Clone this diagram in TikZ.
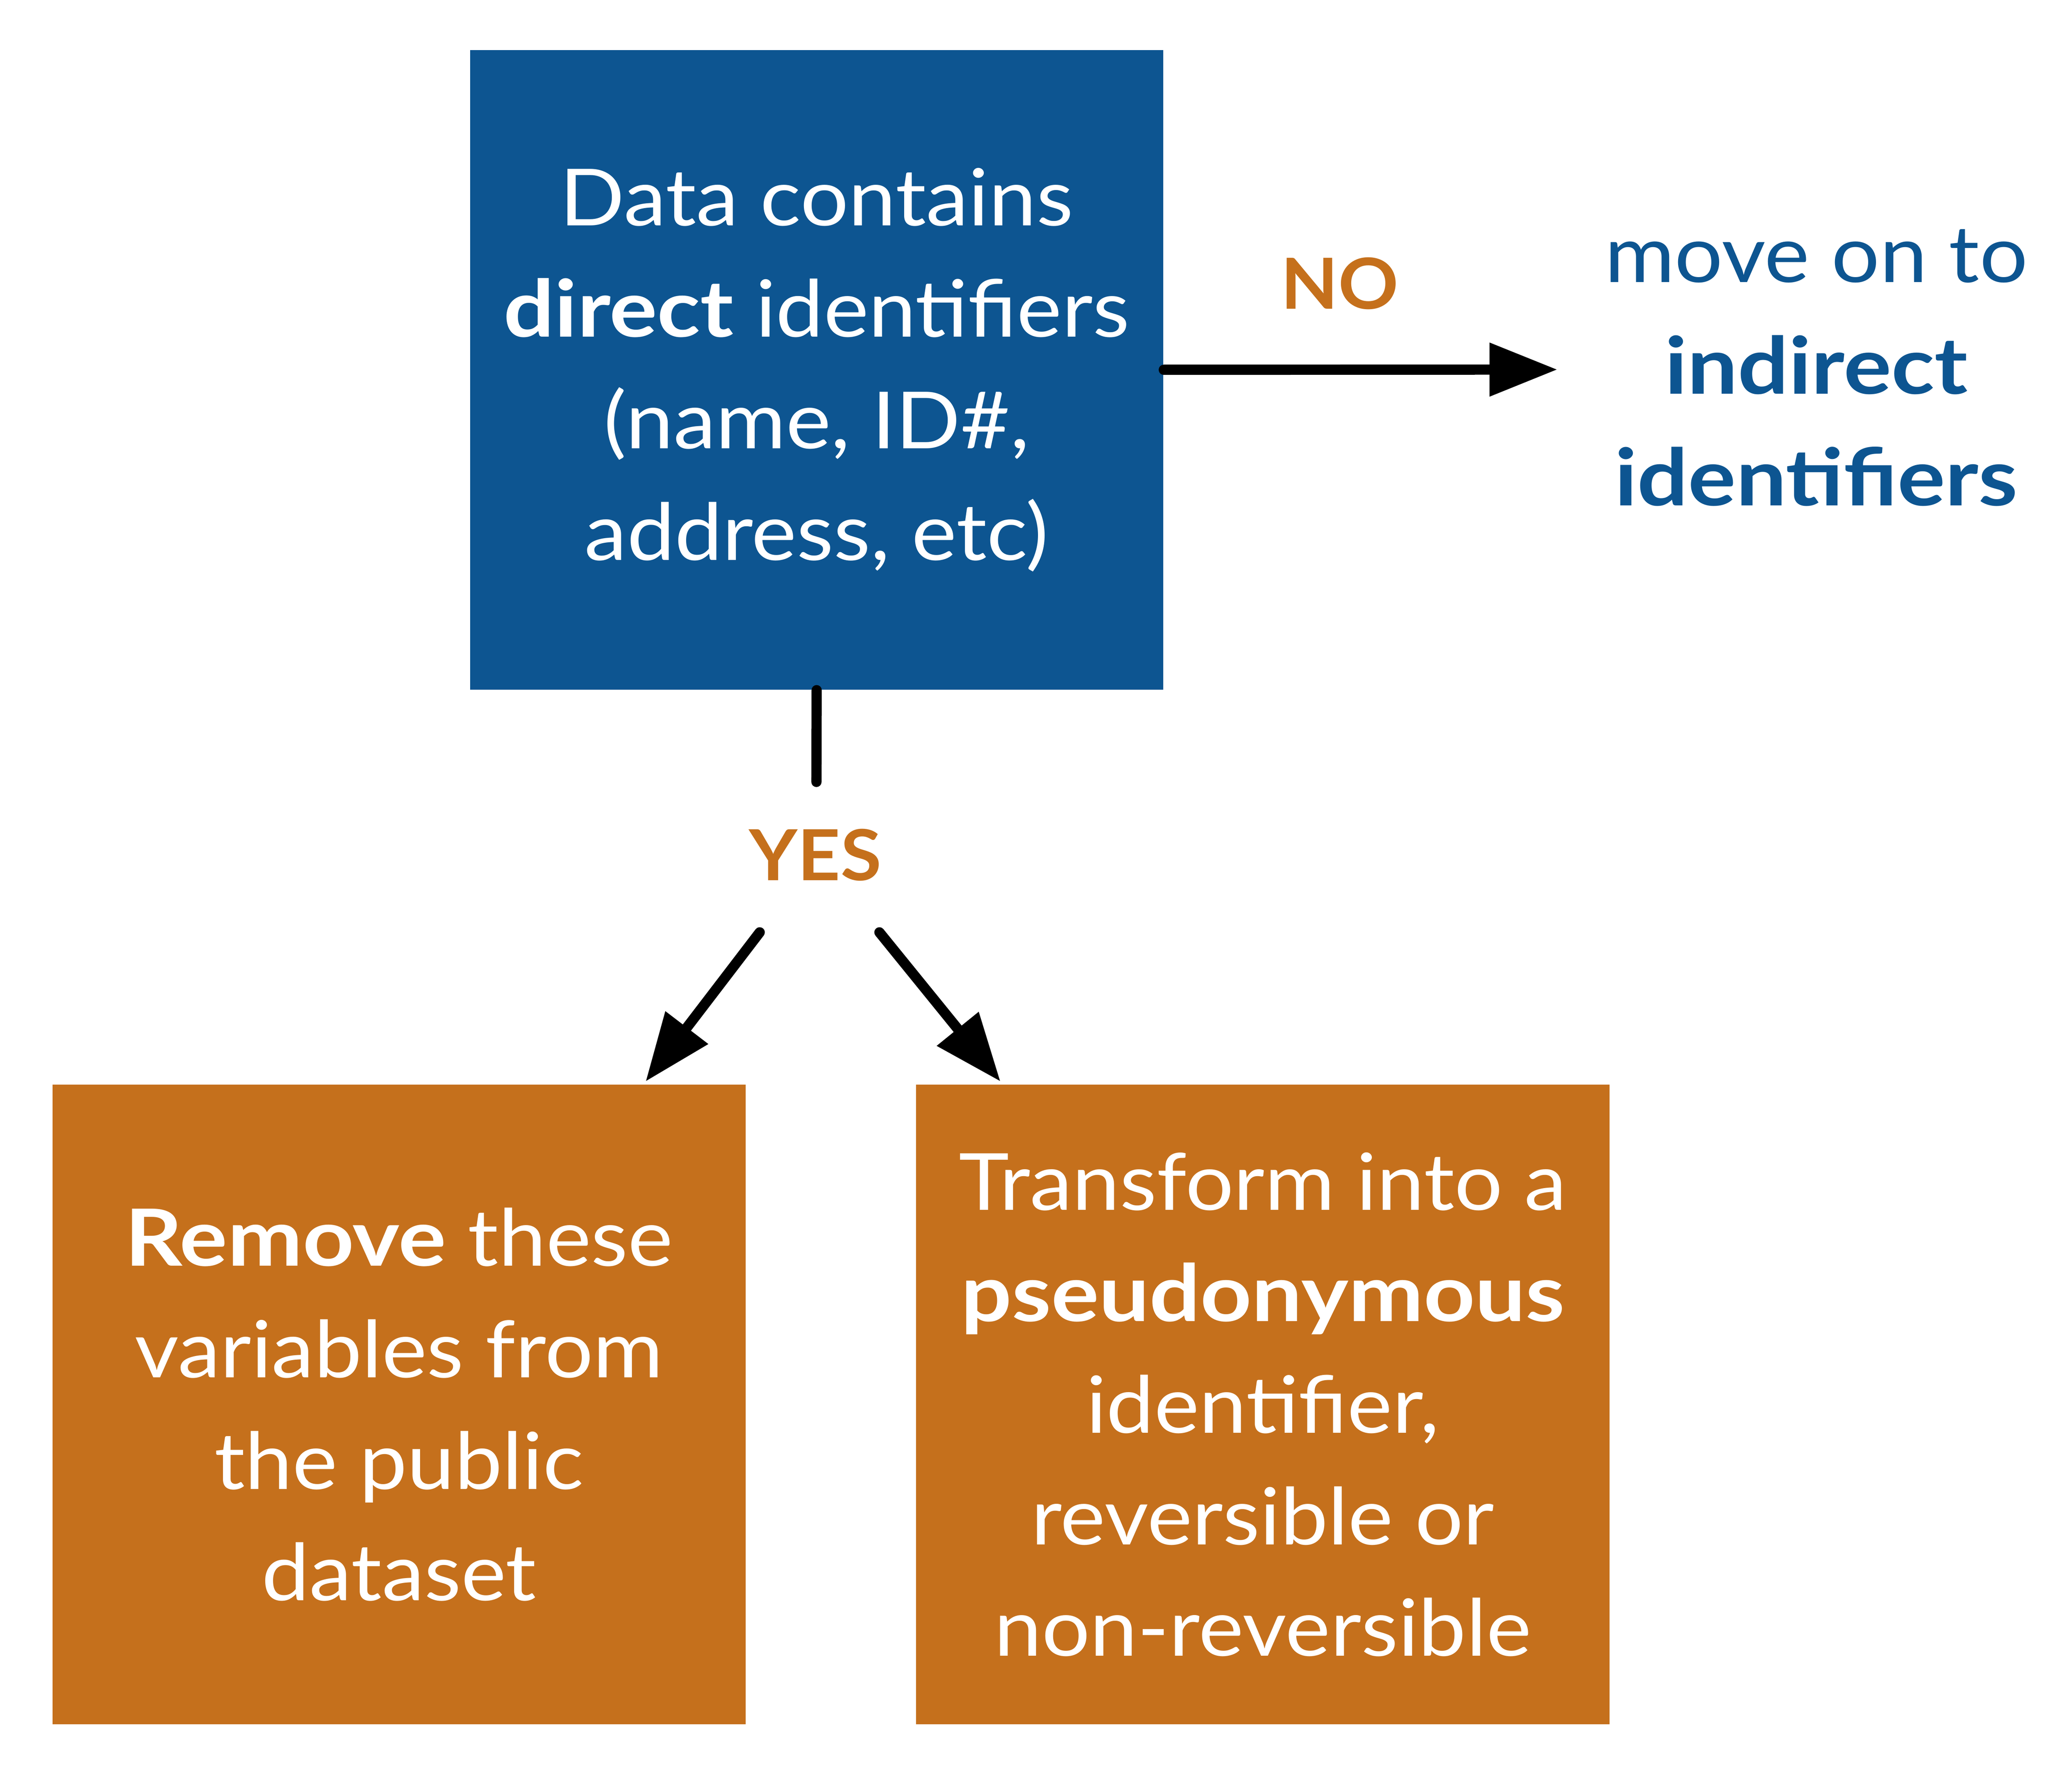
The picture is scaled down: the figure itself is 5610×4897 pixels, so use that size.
\documentclass[tikz,border=0pt]{standalone}
\usepackage{fontspec}
\setmainfont{Lato}[FakeStretch=1.08]
\newfontfamily\wideboldfam{Lato}[FakeStretch=1.135]
\newfontfamily\labelfam{Lato}[FakeStretch=1.06]
\newcommand{\wb}[1]{{\wideboldfam\bfseries #1}}
\usetikzlibrary{arrows.meta}
\definecolor{boxblue}{HTML}{0D5591}
\definecolor{boxorange}{HTML}{C5701C}
\begin{document}
\begin{tikzpicture}[x=0.005cm,y=-0.005cm,
  box/.style={minimum width=9.48cm, minimum height=8.75cm, inner sep=0pt, anchor=north west,
    text=white, align=center, font=\fontsize{30.7}{43.4}\selectfont},
  lbl/.style={text=boxorange, font=\fontsize{27.4}{30}\selectfont\labelfam\bfseries},
  conn/.style={line width=0.14cm, line cap=round, draw=black},
  tipped/.style={-{Triangle[length=0.93cm,width=0.7cm]}}
]
\useasboundingbox (0,0) rectangle (5610,4897);
\node[box, fill=boxblue] (q) at (1283,135) {Data contains\\\wb{direct} identifiers\\(name, ID\#,\\address, etc)};
\node[box, fill=boxorange] (rm) at (142,2963) {\wb{Remove} these\\variables from\\the public\\dataset};
\node[box, fill=boxorange] (tr) at (2502,2963) {Transform into a\\\wb{pseudonymous}\\identifier,\\reversible or\\non-reversible};
\node[text=boxblue, align=center, font=\fontsize{30.7}{43.4}\selectfont] (mv) at (4963,1005) {move on to\\\wb{indirect}\\\wb{identifiers}};
\node[lbl] (no) at (3661,775) {NO};
\node[lbl] (yes) at (2228,2337) {YES};
\coordinate (noend) at (4256,1010);
\coordinate (ystop) at (2231,2137);
\coordinate (yl) at (2076,2548);
\coordinate (yr) at (2403,2548);
\coordinate (rmtip) at (1764,2956);
\coordinate (trtip) at (2734,2956);
\draw[conn,tipped] (q.east) -- (noend);
\draw[conn] (q.south) -- (ystop);
\draw[conn,tipped] (yl) -- (rmtip);
\draw[conn,tipped] (yr) -- (trtip);
\end{tikzpicture}
\end{document}
